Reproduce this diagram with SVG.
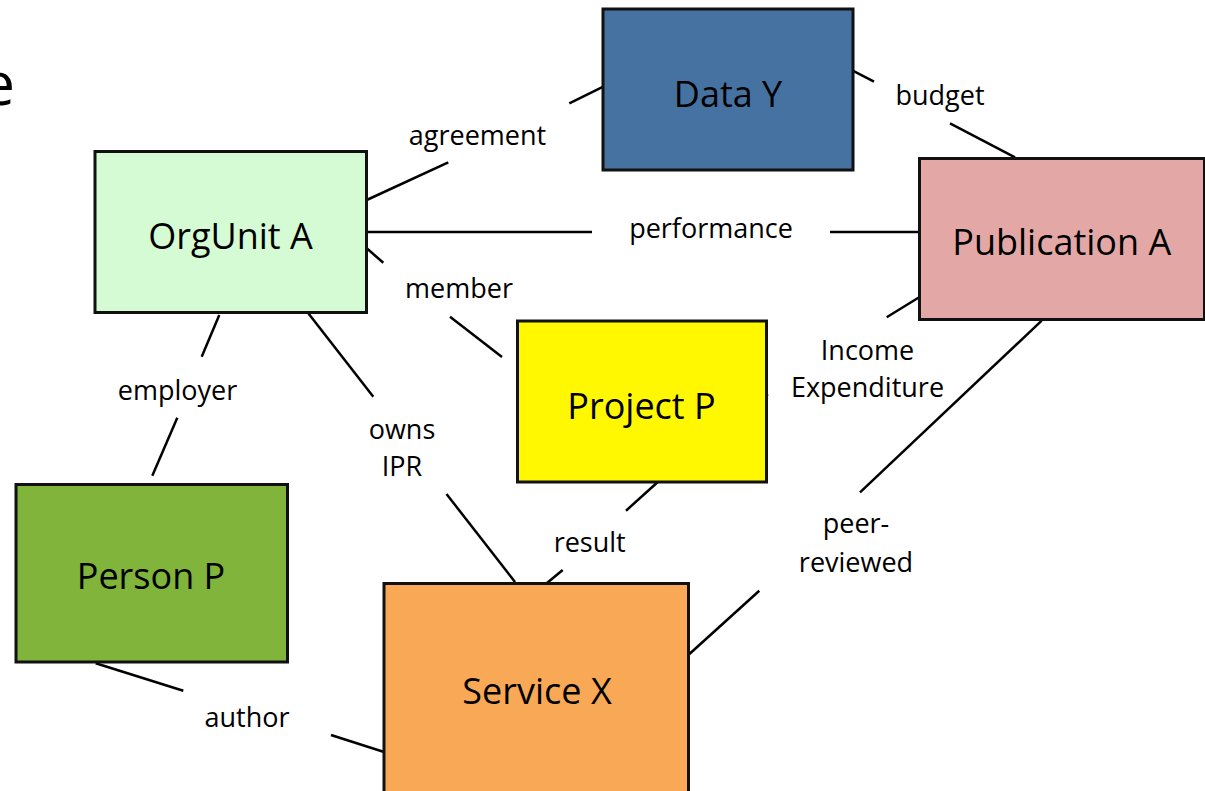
<svg xmlns="http://www.w3.org/2000/svg" width="1205" height="791" viewBox="0 0 1205 791">
<style>
.box{stroke:#111;stroke-width:3}
.nl{font-family:"Open Sans","Noto Sans",sans-serif;font-size:36px;fill:#000;text-anchor:middle}
.ll{font-family:"Open Sans","Noto Sans",sans-serif;font-size:27px;fill:#000;text-anchor:middle}
.c line{stroke:#000;stroke-width:2.5}
</style>
<rect width="1205" height="791" fill="#fff"/>
<text x="15" y="105" style="font-family:'Open Sans','Noto Sans',sans-serif;font-size:60px;text-anchor:end">e</text>
<g class="c" id="connectors">
<line x1="366.7" y1="200" x2="448.3" y2="162.3"/>
<line x1="569.3" y1="103.3" x2="603.3" y2="86.7"/>
<line x1="852.7" y1="70.7" x2="874" y2="81.7"/>
<line x1="950" y1="123.3" x2="1015" y2="157.3"/>
<line x1="366.7" y1="232" x2="592" y2="232"/>
<line x1="830" y1="232" x2="919" y2="232"/>
<line x1="366.7" y1="248.3" x2="383.3" y2="262.7"/>
<line x1="450" y1="316.7" x2="502" y2="357"/>
<line x1="920" y1="296.7" x2="886.7" y2="317.3"/>
<line x1="763.5" y1="397" x2="768" y2="394.2"/>
<line x1="219.3" y1="315" x2="201.7" y2="356.7"/>
<line x1="177.3" y1="417.7" x2="152.3" y2="475.7"/>
<line x1="308.3" y1="313.3" x2="373.3" y2="396.7"/>
<line x1="446.5" y1="494" x2="515" y2="582"/>
<line x1="660" y1="480" x2="626" y2="510.7"/>
<line x1="562.7" y1="570" x2="546.7" y2="583.3"/>
<line x1="1041.7" y1="320.7" x2="860" y2="492.3"/>
<line x1="759.3" y1="590.7" x2="688.3" y2="655"/>
<line x1="95.7" y1="663.3" x2="183.3" y2="690.7"/>
<line x1="331" y1="735" x2="383.3" y2="751.7"/>
</g>
<g id="labels">
<text class="ll" x="477.5" y="145">agreement</text>
<text class="ll" x="940" y="105">budget</text>
<text class="ll" x="711" y="238">performance</text>
<text class="ll" x="459" y="298">member</text>
<text class="ll" x="867.5" y="360">Income</text>
<text class="ll" x="867.5" y="396.5">Expenditure</text>
<text class="ll" x="856" y="533">peer-</text>
<text class="ll" x="856" y="571.5">reviewed</text>
<text class="ll" x="177.5" y="400">employer</text>
<text class="ll" x="402" y="439">owns</text>
<text class="ll" x="402" y="475.5">IPR</text>
<text class="ll" x="589.7" y="551.5">result</text>
<text class="ll" x="247" y="727">author</text>
</g>
<g id="node-datay">
<rect class="box" x="603" y="9" width="250" height="161" fill="#4572A1"/>
<text class="nl" x="728" y="106.5">Data Y</text>
</g>
<g id="node-orgunit">
<rect class="box" x="95" y="151.5" width="271.5" height="161" fill="#D5FBD5"/>
<text class="nl" x="230.5" y="249">OrgUnit A</text>
</g>
<g id="node-publication">
<rect class="box" x="919.5" y="158.5" width="285" height="161" fill="#E3A8A6"/>
<text class="nl" x="1061.7" y="255">Publication A</text>
</g>
<g id="node-project">
<rect class="box" x="517.5" y="321" width="249" height="161" fill="#FFF800"/>
<text class="nl" x="641.5" y="419">Project P</text>
</g>
<g id="node-person">
<rect class="box" x="16" y="484.5" width="271.5" height="177.5" fill="#80B43B"/>
<text class="nl" x="151" y="589">Person P</text>
</g>
<g id="node-service">
<rect class="box" x="384" y="583.5" width="304.5" height="220" fill="#F9A955"/>
<text class="nl" x="537" y="704">Service X</text>
</g>
</svg>
